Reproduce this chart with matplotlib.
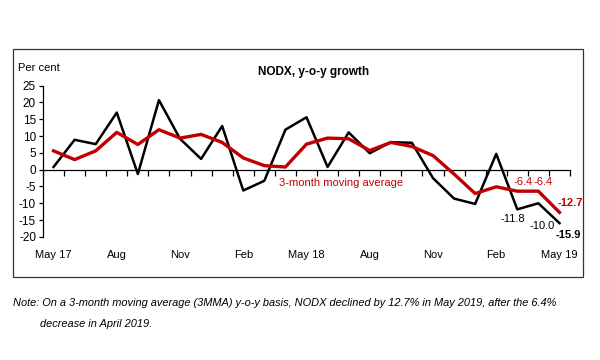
import matplotlib
matplotlib.use("Agg")
import matplotlib.pyplot as plt
from matplotlib.patches import Rectangle

plt.rcParams['font.family'] = ['Liberation Sans', 'DejaVu Sans']
plt.rcParams['axes.unicode_minus'] = False

months = ["May 17", "Jun 17", "Jul 17", "Aug 17", "Sep 17", "Oct 17", "Nov 17", "Dec 17",
          "Jan 18", "Feb 18", "Mar 18", "Apr 18", "May 18", "Jun 18", "Jul 18", "Aug 18",
          "Sep 18", "Oct 18", "Nov 18", "Dec 18", "Jan 19", "Feb 19", "Mar 19", "Apr 19", "May 19"]
nodx = [0.8, 8.9, 7.6, 17.0, -1.3, 20.7, 9.2, 3.2, 13.0, -6.2, -3.3, 11.9, 15.6,
        0.8, 11.1, 4.9, 8.2, 8.0, -2.5, -8.6, -10.2, 4.7, -11.8, -10.0, -15.9]
mma3 = [5.6, 3.0, 5.6, 11.1, 7.5, 11.9, 9.4, 10.5, 8.1, 3.5, 1.2, 0.8, 7.6,
        9.4, 9.2, 5.7, 8.1, 6.9, 4.2, -1.3, -7.1, -5.1, -6.4, -6.4, -12.7]
tick_labels = ["May 17", "Aug", "Nov", "Feb", "May 18", "Aug", "Nov", "Feb", "May 19"]

red = '#C00000'
fs = 8

fig = plt.figure(figsize=(6, 3.6), dpi=100)
ax = fig.add_axes([43/600, 0.342, 527/600, 0.420])

x = list(range(len(months)))
ax.plot(x, nodx, color='black', lw=1.8, zorder=3)
ax.plot(x, mma3, color=red, lw=2.4, zorder=4)

ax.set_xlim(-0.5, len(months) - 0.5)
ax.set_ylim(-20, 25)
ax.set_yticks(range(-20, 30, 5))
ax.tick_params(axis='y', length=3, width=0.9, labelsize=fs + 0.5, pad=2)

# x axis sits on zero, ticks at month boundaries
ax.spines['bottom'].set_position(('data', 0))
ax.spines['top'].set_visible(False)
ax.spines['right'].set_visible(False)
ax.spines['left'].set_linewidth(0.9)
ax.spines['bottom'].set_linewidth(0.9)
ax.set_xticks([i - 0.5 for i in range(len(months) + 1)])
ax.set_xticklabels([])
ax.tick_params(axis='x', length=4, width=0.9, direction='out')

for i, lab in enumerate(tick_labels):
    ax.text(i * 3, -0.12, lab, transform=ax.get_xaxis_transform(),
            ha='center', va='center', fontsize=fs)

# point labels
ax.text(22.25, -3.6, "-6.4", color=red, ha='center', va='center', fontsize=fs)
ax.text(23.2, -3.6, "-6.4", color=red, ha='center', va='center', fontsize=fs)
ax.text(24.5, -9.8, "-12.7", color=red, ha='center', va='center', fontsize=fs, fontweight='bold')
ax.text(21.8, -14.6, "-11.8", color='black', ha='center', va='center', fontsize=fs)
ax.text(23.2, -16.7, "-10.0", color='black', ha='center', va='center', fontsize=fs)
ax.text(24.4, -19.3, "-15.9", color='black', ha='center', va='center', fontsize=fs, fontweight='bold')

ax.text(10.7, -3.9, "3-month moving average", color=red, ha='left', va='center', fontsize=fs)

fig.text(314/600, 1 - 72/360, "NODX, y-o-y growth", ha='center', va='center',
         fontsize=8.5, fontweight='bold')
fig.text(18/600, 1 - 68/360, "Per cent", ha='left', va='center', fontsize=fs)

fig.patches.append(Rectangle((13/600, 1 - 277/360), 570/600, 228/360, transform=fig.transFigure,
                             fill=False, edgecolor='#333333', lw=0.9))

fig.text(13/600, 1 - 303/360,
         "Note: On a 3-month moving average (3MMA) y-o-y basis, NODX declined by 12.7% in May 2019, after the 6.4%",
         ha='left', va='center', fontsize=7.9, style='italic')
fig.text(40/600, 1 - 324/360, "decrease in April 2019.", ha='left', va='center',
         fontsize=7.9, style='italic')

fig.savefig("out.png", dpi=100)
